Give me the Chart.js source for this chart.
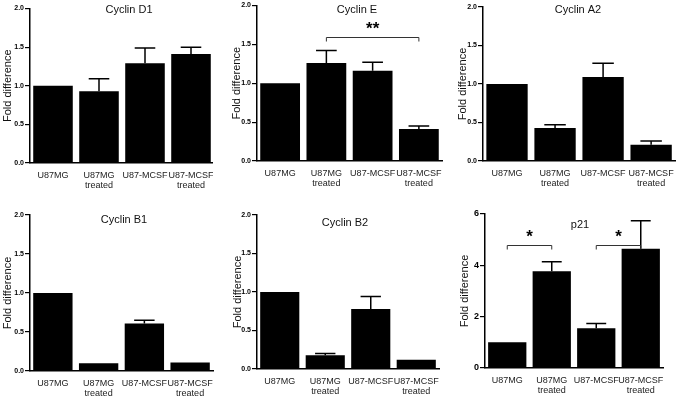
<!DOCTYPE html>
<html>
<head>
<meta charset="utf-8">
<script src="https://cdn.jsdelivr.net/npm/chart.js@4"></script>
<style>
  html, body { margin: 0; padding: 0; background: #fff; }
  #wrap { position: relative; width: 681px; height: 402px; overflow: hidden; }
  .panel { position: absolute; overflow: hidden; }
</style>
</head>
<body>
<div id="wrap"></div>
<script>
// categories shared by every panel
const categories = [['U87MG'], ['U87MG', 'treated'], ['U87-MCSF'], ['U87-MCSF', 'treated']];

// means and SEM (upper error bar) per panel
const cyclinD1 = [1.0, 0.93, 1.29, 1.41];
const cyclinD1Sem = [0, 0.16, 0.20, 0.09];
const cyclinE = [1.0, 1.26, 1.16, 0.41];
const cyclinESem = [0, 0.16, 0.11, 0.04];
const cyclinA2 = [1.0, 0.43, 1.09, 0.21];
const cyclinA2Sem = [0, 0.04, 0.18, 0.05];
const cyclinB1 = [1.0, 0.10, 0.61, 0.11];
const cyclinB1Sem = [0, 0, 0.04, 0];
const cyclinB2 = [1.0, 0.18, 0.78, 0.12];
const cyclinB2Sem = [0, 0.02, 0.16, 0];
const p21 = [1.0, 3.77, 1.55, 4.65];
const p21Sem = [0, 0.37, 0.18, 1.09];

// significance brackets: from/to category index, height in data units
const cyclinEBrackets = [{ from: 1, to: 3, y: 1.6, label: '**' }];
const p21Brackets = [{ from: 0, to: 1, y: 4.79, label: '*' }, { from: 2, to: 3, y: 4.79, label: '*' }];

const FONT = "'Liberation Sans', Arial, sans-serif";

// error bars, brackets and panel title
const extras = {
  id: 'extras',
  afterDatasetsDraw(chart, args, opts) {
    const { ctx } = chart;
    const y = chart.scales.y;
    const meta = chart.getDatasetMeta(0);
    const vals = chart.data.datasets[0].data;
    ctx.save();
    ctx.strokeStyle = '#000';
    ctx.lineWidth = 1.5;
    (opts.sem || []).forEach((e, i) => {
      if (!e) return;
      const bar = meta.data[i];
      const top = y.getPixelForValue(vals[i] + e);
      const cw = bar.width * 0.26;
      ctx.beginPath();
      ctx.moveTo(bar.x, bar.y); ctx.lineTo(bar.x, top);
      ctx.moveTo(bar.x - cw, top); ctx.lineTo(bar.x + cw, top);
      ctx.stroke();
    });
    ctx.lineWidth = 1;
    ctx.strokeStyle = '#333';
    (opts.brackets || []).forEach(b => {
      const x1 = meta.data[b.from].x, x2 = meta.data[b.to].x;
      const yy = Math.round(y.getPixelForValue(b.y)) + 0.5;
      ctx.beginPath();
      ctx.moveTo(x1, yy + 4); ctx.lineTo(x1, yy); ctx.lineTo(x2, yy); ctx.lineTo(x2, yy + 4);
      ctx.stroke();
      ctx.fillStyle = '#000';
      ctx.font = 'bold 17px ' + FONT;
      ctx.textAlign = 'center';
      ctx.textBaseline = 'middle';
      ctx.fillText(b.label, (x1 + x2) / 2, yy - 8);
    });
    if (opts.title) {
      ctx.fillStyle = '#111';
      ctx.font = '11px ' + FONT;
      ctx.textAlign = 'center';
      ctx.textBaseline = 'middle';
      ctx.fillText(opts.title, opts.titleX, opts.titleY);
    }
    ctx.restore();
  }
};

const panels = [
  { title: 'Cyclin D1', data: cyclinD1, sem: cyclinD1Sem, left: 0, top: 0, w: 225, h: 200, clipW: 213,
    axisX: 30, plotTop: 8.5, plotBottom: 163, plotRight: 214, max: 2, step: 0.5, titleX: 129, titleY: 10, labelPad: 1, tickSize: 7 },
  { title: 'Cyclin E', data: cyclinE, sem: cyclinESem, brackets: cyclinEBrackets, left: 225, top: 0, w: 225, h: 200,
    axisX: 32, plotTop: 5.5, plotBottom: 161, plotRight: 217, max: 2, step: 0.5, titleX: 132, titleY: 10, labelPad: 5, tickSize: 7 },
  { title: 'Cyclin A2', data: cyclinA2, sem: cyclinA2Sem, left: 450, top: 0, w: 231, h: 200,
    axisX: 33, plotTop: 7, plotBottom: 161, plotRight: 228, max: 2, step: 0.5, titleX: 128, titleY: 10, labelPad: 6, tickSize: 7 },
  { title: 'Cyclin B1', data: cyclinB1, sem: cyclinB1Sem, left: 0, top: 200, w: 225, h: 202,
    axisX: 30, plotTop: 15, plotBottom: 171, plotRight: 213, max: 2, step: 0.5, titleX: 124, titleY: 20, labelPad: 1, tickSize: 7 },
  { title: 'Cyclin B2', data: cyclinB2, sem: cyclinB2Sem, left: 225, top: 200, w: 225, h: 202,
    axisX: 32, plotTop: 15, plotBottom: 169, plotRight: 214, max: 2, step: 0.5, titleX: 120, titleY: 23, labelPad: 6, tickSize: 7 },
  { title: 'p21', data: p21, sem: p21Sem, brackets: p21Brackets, left: 450, top: 200, w: 231, h: 202,
    axisX: 35, plotTop: 14, plotBottom: 168, plotRight: 213, max: 6, step: 2, titleX: 130, titleY: 25, labelPad: 8, tickSize: 9 }
];

const wrap = document.getElementById('wrap');
panels.forEach(p => {
  const div = document.createElement('div');
  div.className = 'panel';
  div.style.left = p.left + 'px';
  div.style.top = p.top + 'px';
  div.style.width = (p.clipW || p.w) + 'px';
  div.style.height = p.h + 'px';
  const cv = document.createElement('canvas');
  cv.width = p.w; cv.height = p.h;
  cv.style.width = p.w + 'px'; cv.style.height = p.h + 'px';
  div.appendChild(cv);
  wrap.appendChild(div);

  new Chart(cv, {
    type: 'bar',
    data: {
      labels: categories,
      datasets: [{ data: p.data, backgroundColor: '#000', borderWidth: 0, barPercentage: 0.86, categoryPercentage: 1 }]
    },
    options: {
      responsive: false,
      animation: false,
      layout: { padding: { left: 0, top: p.plotTop, right: p.w - p.plotRight, bottom: 0 } },
      plugins: {
        legend: { display: false },
        tooltip: { enabled: false },
        extras: { sem: p.sem, brackets: p.brackets, title: p.title, titleX: p.titleX, titleY: p.titleY }
      },
      scales: {
        x: {
          grid: { display: true, drawOnChartArea: false, drawTicks: false },
          border: { display: true, color: '#000', width: 1.5 },
          ticks: { color: '#222', font: { family: FONT, size: 9, lineHeight: 1.15 }, padding: 7, maxRotation: 0, autoSkip: false },
          afterFit: s => { s.height = p.h - p.plotBottom; }
        },
        y: {
          min: 0, max: p.max,
          grid: { display: true, drawOnChartArea: false, drawTicks: true, tickLength: 5, color: '#000', lineWidth: 1.2 },
          border: { display: true, color: '#000', width: 1.5 },
          ticks: {
            stepSize: p.step, color: '#000', padding: 1,
            font: { family: FONT, size: p.tickSize, weight: 'bold' },
            callback: v => p.step < 1 ? v.toFixed(1) : String(v)
          },
          title: { display: true, text: 'Fold difference', color: '#111', font: { family: FONT, size: 11 }, padding: { top: p.labelPad, bottom: 0 } },
          afterFit: s => { s.width = p.axisX; }
        }
      }
    },
    plugins: [extras]
  });
});
</script>
</body>
</html>
